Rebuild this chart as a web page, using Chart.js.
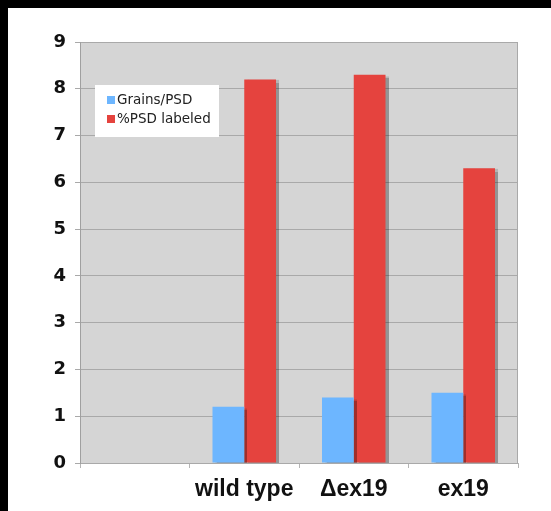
<!DOCTYPE html>
<html>
<head>
<meta charset="utf-8">
<script src="https://cdn.jsdelivr.net/npm/chart.js@4"></script>
<style>
  html, body { margin: 0; padding: 0; background: #000; }
  #wrap { position: absolute; left: 8px; top: 8px; width: 543px; height: 503px; background: #fff; }
</style>
</head>
<body>
<div id="wrap"><canvas id="myChart"></canvas></div>
<script>
const categories = ['', 'wild type', '\u0394ex19', 'ex19'];
const grainsPerPsd = [null, 1.2, 1.4, 1.5];
const psdLabeled = [null, 8.2, 8.3, 6.3];
const yTicks = [0, 1, 2, 3, 4, 5, 6, 7, 8, 9];

const plotBackground = {
    id: 'plotBackground',
    beforeDraw(chart) {
        const { ctx, chartArea: a } = chart;
        ctx.save();
        ctx.fillStyle = '#d5d5d5';
        ctx.fillRect(a.left, a.top, a.right - a.left, a.bottom - a.top);
        ctx.strokeStyle = '#a9a9a9';
        ctx.lineWidth = 1;
        ctx.strokeRect(a.left + 0.5, a.top + 0.5, a.right - a.left - 1, a.bottom - a.top);
        ctx.restore();
    }
};

const barShadow = {
    id: 'barShadow',
    beforeDatasetsDraw(chart) {
        const ctx = chart.ctx;
        ctx.save();
        ctx.shadowColor = 'rgba(0, 0, 0, 0.3)';
        ctx.shadowOffsetX = 3;
        ctx.shadowOffsetY = 1;
        ctx.shadowBlur = 1;
    },
    afterDatasetsDraw(chart) {
        chart.ctx.restore();
    }
};

// legend sits inside the plot, so it is drawn here
const innerLegend = {
    id: 'innerLegend',
    afterDraw(chart) {
        const ctx = chart.ctx;
        const x = 87, y = 77;
        ctx.save();
        ctx.fillStyle = '#ffffff';
        ctx.fillRect(x, y, 124, 52);
        ctx.font = '13.5px "DejaVu Sans"';
        ctx.textBaseline = 'middle';
        chart.data.datasets.forEach((ds, i) => {
            const cy = y + 15 + i * 19;
            ctx.fillStyle = ds.backgroundColor;
            ctx.fillRect(x + 12, cy - 4, 8, 8);
            ctx.fillStyle = '#222';
            ctx.fillText(ds.label, x + 22, cy);
        });
        ctx.restore();
    }
};

const ctx = document.getElementById('myChart').getContext('2d');
const myChart = new Chart(ctx, {
    type: 'bar',
    data: {
        labels: categories,
        datasets: [{
            label: 'Grains/PSD',
            data: grainsPerPsd,
            backgroundColor: '#6db6ff',
            borderWidth: 0
        }, {
            label: '%PSD labeled',
            data: psdLabeled,
            backgroundColor: '#e5433e',
            borderWidth: 0
        }]
    },
    options: {
        responsive: true,
        maintainAspectRatio: false,
        animation: false,
        layout: {
            padding: { left: 0, top: 34, right: 33, bottom: 0 }
        },
        datasets: {
            bar: {
                categoryPercentage: 0.58,
                barPercentage: 1.0
            }
        },
        scales: {
            x: {
                grid: {
                    drawOnChartArea: false,
                    tickLength: 5,
                    color: '#b5b5b5'
                },
                border: { display: false },
                ticks: {
                    color: '#111',
                    padding: 8,
                    font: { family: '"Liberation Sans", Arial, sans-serif', size: 23, weight: 'bold' }
                },
                afterFit(scale) { scale.height = 48; }
            },
            y: {
                min: 0,
                max: 9,
                afterBuildTicks(scale) {
                    scale.ticks = yTicks.map(v => ({ value: v }));
                },
                grid: {
                    color: '#a9a9a9',
                    tickLength: 5
                },
                border: { display: true, color: '#a0a0a0' },
                ticks: {
                    color: '#111',
                    padding: 9,
                    font: { family: '"DejaVu Sans", Verdana, sans-serif', size: 18, weight: 'bold' }
                },
                afterFit(scale) { scale.width = 72; }
            }
        },
        plugins: {
            legend: { display: false },
            tooltip: { enabled: false }
        }
    },
    plugins: [plotBackground, barShadow, innerLegend]
});
</script>
</body>
</html>
